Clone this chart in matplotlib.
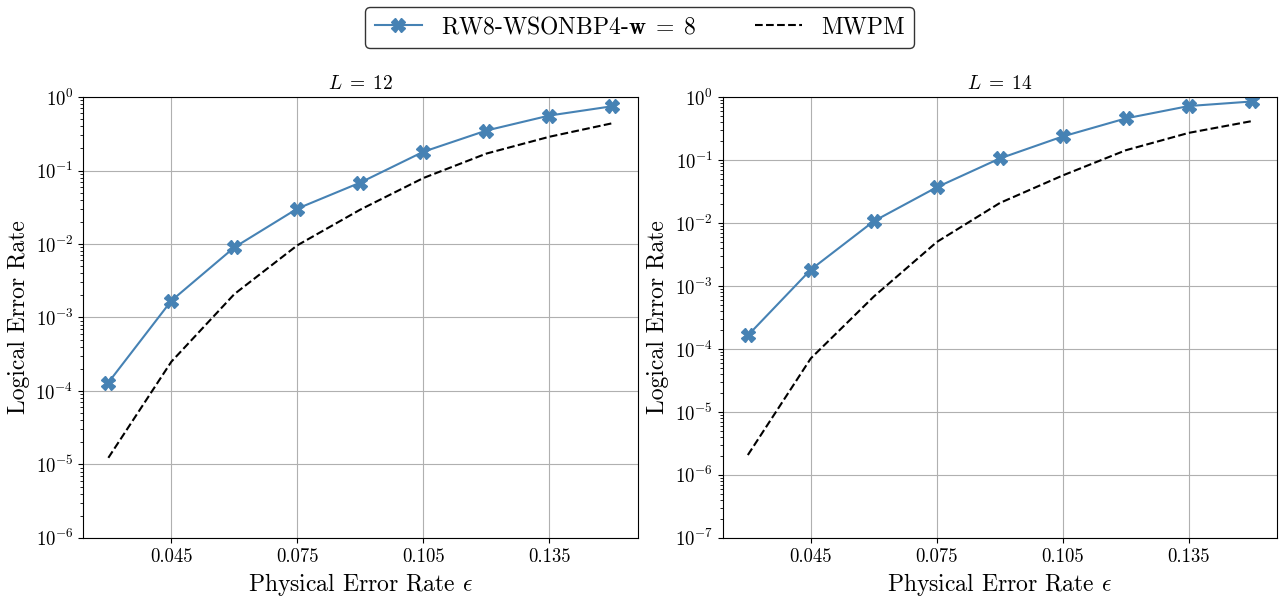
import numpy as np
import matplotlib
matplotlib.use("Agg")
import matplotlib.pyplot as plt

plt.rcParams['font.family'] = ['cmr10', 'DejaVu Serif']
plt.rcParams['mathtext.fontset'] = 'cm'
plt.rcParams['axes.formatter.use_mathtext'] = True
plt.rcParams['axes.unicode_minus'] = False

# Physical error rates
eps = [0.03, 0.045, 0.06, 0.075, 0.09, 0.105, 0.12, 0.135, 0.15]
x_ticks = [0.045, 0.075, 0.105, 0.135]

# L = 12
bp_l12 = [1.3e-4, 1.69e-3, 9.0e-3, 3.03e-2, 6.86e-2, 0.18, 0.35, 0.56, 0.75]
mwpm_l12 = [1.23e-5, 2.5e-4, 2.08e-3, 9.6e-3, 2.94e-2, 7.9e-2, 0.17, 0.288, 0.44]

# L = 14
bp_l14 = [1.64e-4, 1.82e-3, 1.07e-2, 3.7e-2, 0.106, 0.237, 0.458, 0.72, 0.85]
mwpm_l14 = [2.07e-6, 7.1e-5, 6.8e-4, 5.0e-3, 2.08e-2, 5.7e-2, 0.143, 0.27, 0.415]

panels = [
    (r"$L \;=\; 12$", bp_l12, mwpm_l12, 1e-6),
    (r"$L \;=\; 14$", bp_l14, mwpm_l14, 1e-7),
]

fig = plt.figure(figsize=(12.79, 5.99), dpi=100)
lefts = [0.065, 0.565]
for (title, bp, mwpm, ymin), left in zip(panels, lefts):
    ax = fig.add_axes([left, 0.102, 0.4335, 0.736])
    ax.plot(eps, bp, color='#4682B4', marker='X', markersize=10, linewidth=1.5,
            label=r"RW8-WSONBP4-$\mathbf{w} \;=\; 8$")
    ax.plot(eps, mwpm, color='black', linestyle='--', linewidth=1.5, label="MWPM")
    ax.set_yscale('log')
    ax.set_ylim(ymin, 1)
    ax.set_xticks(x_ticks)
    ax.set_xticklabels([f"{t:.3f}" for t in x_ticks])
    ax.grid(True, color='#b0b0b0', linewidth=0.8)
    ax.set_title(title, fontsize=14)
    ax.set_xlabel(r"Physical Error Rate $\epsilon$", fontsize=17)
    ax.set_ylabel("Logical Error Rate", fontsize=17)
    ax.tick_params(labelsize=13.5)

handles, labels = ax.get_legend_handles_labels()
fig.legend(handles, labels, loc='upper center', bbox_to_anchor=(0.5, 1.008), ncol=2,
           fontsize=17, frameon=True, edgecolor='black', fancybox=True,
           columnspacing=2.5)

fig.savefig("out.png", dpi=100)
